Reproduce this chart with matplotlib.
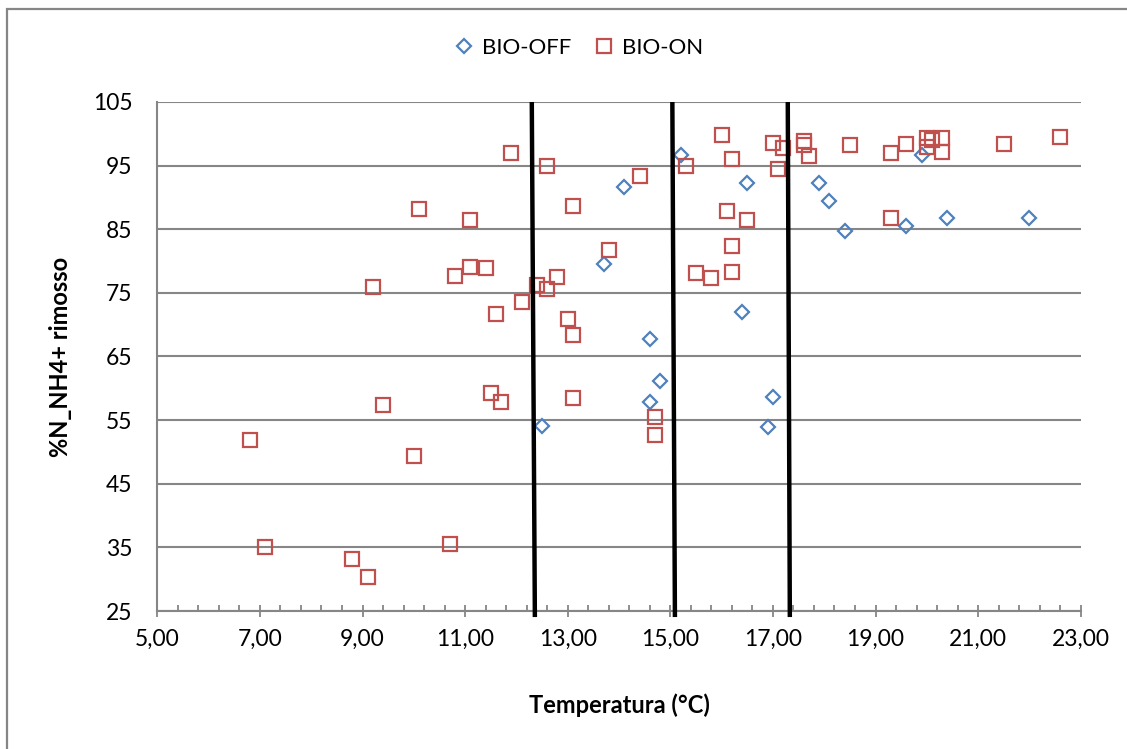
import matplotlib
matplotlib.use("Agg")
import numpy as np
import matplotlib.pyplot as plt
from matplotlib.lines import Line2D
from matplotlib.patches import Rectangle
from matplotlib.ticker import FixedLocator, FuncFormatter

plt.rcParams['font.family'] = ['Lato', 'DejaVu Sans']

# Temperature (°C) and % of N-NH4+ removed, biofilter off
off_temp = [12.5, 13.7, 14.1, 14.6, 14.6, 14.8, 15.2, 16.4, 16.5,
            16.9, 17.0, 17.9, 18.1, 18.4, 19.6, 19.9, 20.4, 22.0]
off_removed = [54.0, 79.5, 91.6, 67.7, 57.8, 61.1, 96.6, 72.0, 92.2,
               53.9, 58.6, 92.2, 89.4, 84.8, 85.5, 96.7, 86.7, 86.7]

# Temperature (°C) and % of N-NH4+ removed, biofilter on
on_temp = [6.8, 7.1, 8.8, 9.1, 9.2, 9.4, 10.0, 10.1, 10.7, 10.8,
           11.1, 11.1, 11.4, 11.5, 11.6, 11.7, 11.9, 12.1, 12.4, 12.6,
           12.6, 12.8, 13.0, 13.1, 13.1, 13.1, 13.8, 14.4, 14.7, 14.7,
           15.3, 15.5, 15.8, 16.0, 16.1, 16.2, 16.2, 16.2, 16.5, 17.0,
           17.1, 17.2, 17.6, 17.6, 17.7, 18.5, 19.3, 19.3, 19.6, 20.0,
           20.0, 20.1, 20.3, 20.3, 21.5, 22.6]
on_removed = [51.8, 35.1, 33.1, 30.4, 76.0, 57.3, 49.3, 88.2, 35.5, 77.6,
              86.4, 79.0, 78.9, 59.3, 71.7, 57.8, 97.0, 73.5, 76.3, 94.9,
              75.6, 77.5, 70.9, 88.7, 68.4, 58.4, 81.7, 93.4, 55.5, 52.6,
              94.9, 78.2, 77.4, 99.8, 87.9, 96.0, 82.4, 78.3, 86.4, 98.5,
              94.4, 97.7, 98.8, 98.3, 96.5, 98.2, 97.0, 86.8, 98.4, 99.4,
              98.0, 99.0, 99.3, 97.2, 98.4, 99.5]

# Temperature thresholds separating the ranges (hand-drawn, slightly slanted)
threshold_top = [12.30, 15.04, 17.29]
threshold_bottom = [12.36, 15.09, 17.33]

x_ticks = [5, 7, 9, 11, 13, 15, 17, 19, 21, 23]
y_ticks = [25, 35, 45, 55, 65, 75, 85, 95, 105]

series_labels = ["BIO-OFF", "BIO-ON"]
x_label = "Temperatura (°C)"
y_label = "%N_NH4+ rimosso"

blue = "#4F81BD"
red = "#C0504D"
grey = "#868686"

W, H = 1127, 749
fig = plt.figure(figsize=(W / 100, H / 100), dpi=100)
ax = fig.add_axes([157.3 / W, 1 - 611 / H, (1080.7 - 157.3) / W, (611 - 102) / H])

ax.set_xlim(x_ticks[0], x_ticks[-1])
ax.set_ylim(y_ticks[0], y_ticks[-1])

ax.plot(off_temp, off_removed, linestyle="none", marker="D", markersize=7.3,
        markerfacecolor="none", markeredgecolor=blue, markeredgewidth=1.6,
        zorder=4, clip_on=False)
ax.plot(on_temp, on_removed, linestyle="none", marker="s", markersize=9.8,
        markerfacecolor="none", markeredgecolor=red, markeredgewidth=1.6,
        zorder=4, clip_on=False)

for xt, xb in zip(threshold_top, threshold_bottom):
    ax.plot([xt, xb], [105, 24.05], color="black", linewidth=3.2,
            solid_capstyle="butt", zorder=5, clip_on=False)

# Axes styling
ax.xaxis.set_major_locator(FixedLocator(x_ticks))
ax.xaxis.set_minor_locator(FixedLocator(np.arange(x_ticks[0], x_ticks[-1] + 0.001, 0.4)))
ax.yaxis.set_major_locator(FixedLocator(y_ticks))
ax.xaxis.set_major_formatter(FuncFormatter(lambda v, p: f"{v:.2f}".replace(".", ",")))
ax.yaxis.set_major_formatter(FuncFormatter(lambda v, p: f"{v:.0f}"))

ax.grid(axis="y", color=grey, linewidth=1.5, zorder=0)
ax.set_axisbelow(True)
for s in ["top", "right"]:
    ax.spines[s].set_visible(False)
for s in ["left", "bottom"]:
    ax.spines[s].set_color(grey)
    ax.spines[s].set_linewidth(1.5)

ax.tick_params(axis="x", which="major", direction="inout", length=9,
               width=1.3, color=grey, labelsize=16.5, pad=8)
ax.tick_params(axis="x", which="minor", direction="in", length=4,
               width=1.3, color=grey)
ax.tick_params(axis="y", which="major", length=0, labelsize=16.5, pad=18)

ax.set_xlabel(x_label, fontsize=17, fontweight="bold", labelpad=32)
ax.set_ylabel(y_label, fontsize=17, fontweight="bold", labelpad=15)

# Legend above the plot
handles = [
    Line2D([], [], linestyle="none", marker="D", markersize=7.3,
           markerfacecolor="none", markeredgecolor=blue, markeredgewidth=1.6),
    Line2D([], [], linestyle="none", marker="s", markersize=9.8,
           markerfacecolor="none", markeredgecolor=red, markeredgewidth=1.6),
]
fig.legend(handles, series_labels, loc="center", ncol=2,
           bbox_to_anchor=(579 / W, 1 - 48 / H), frameon=False, fontsize=16,
           handlelength=0.8, handletextpad=0.4, columnspacing=1.1)

# Outer chart frame
fig.patches.append(Rectangle((7 / W, -0.1), 1.2, 1 - 9 / H + 0.1,
                             transform=fig.transFigure, fill=False,
                             edgecolor=grey, linewidth=1.6))

fig.savefig("out.png", dpi=100)
